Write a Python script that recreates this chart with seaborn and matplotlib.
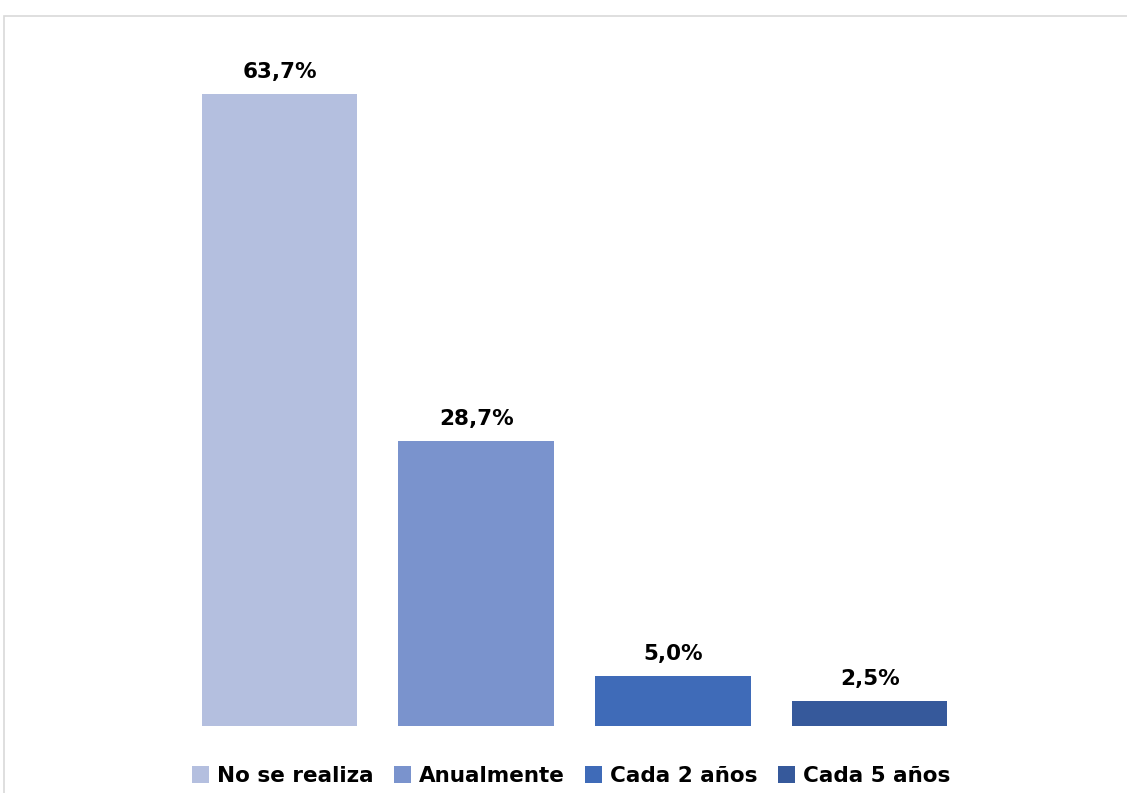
import matplotlib
matplotlib.use("Agg")
import matplotlib.pyplot as plt
import matplotlib.patches as mpatches
import seaborn as sns
import pandas as pd

categories = ["No se realiza", "Anualmente", "Cada 2 años", "Cada 5 años"]
values = [63.7, 28.7, 5.0, 2.5]
colors = ["#B4BFDF", "#7A93CD", "#3F6BB8", "#36599B"]

W, H = 1127, 793


def main():
    sns.set_style("white")
    plt.rcParams['font.family'] = ['DejaVu Sans']

    df = pd.DataFrame({"cat": categories, "val": values})

    fig = plt.figure(figsize=(W / 100, H / 100), dpi=100)
    # plot area placed in pixel coords: x 181..968, y baseline 726, top for 70%
    left, right = 181, 968
    bottom, top = 726, 726 - 70 * 9.92
    ax = fig.add_axes([left / W, 1 - bottom / H, (right - left) / W, (bottom - top) / H])

    sns.barplot(data=df, x="cat", y="val", hue="cat", palette=colors,
                width=0.79, legend=False, ax=ax, saturation=1, linewidth=0)
    ax.set_ylim(0, 70)
    ax.set_xlim(-0.5, 3.5)
    ax.axis("off")

    for i, v in enumerate(values):
        ax.annotate(f"{v:.1f}%".replace(".", ","), (i, v), xytext=(0, 9),
                    textcoords="offset points", ha="center", va="bottom",
                    fontsize=15.5, fontweight="bold", color="black")

    # frame of the chart area
    frame = mpatches.Rectangle((4 / W, -0.05), 1.2, (H - 16) / H + 0.05,
                               transform=fig.transFigure, fill=False,
                               edgecolor="#D9D9D9", linewidth=1.2, clip_on=False)
    fig.patches.append(frame)

    handles = [mpatches.Patch(color=c, label=l, linewidth=0) for c, l in zip(colors, categories)]
    fig.legend(handles=handles, loc="center", bbox_to_anchor=(571 / W, 1 - 776 / H),
               ncol=4, frameon=False, prop={"size": 15.5, "weight": "bold"},
               labelcolor="black",
               handlelength=0.8, handleheight=0.8, handletextpad=0.35,
               columnspacing=0.95)

    plt.savefig("out.png", dpi=100)
    plt.close()


if __name__ == "__main__":
    main()
